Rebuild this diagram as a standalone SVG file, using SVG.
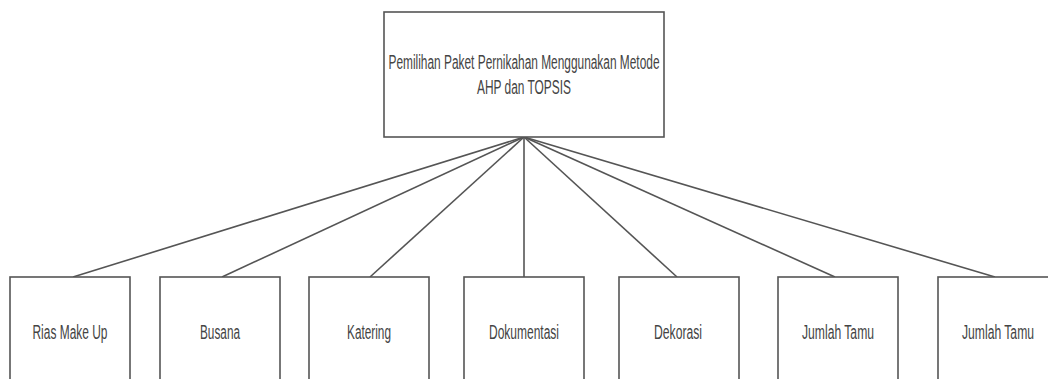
<svg xmlns="http://www.w3.org/2000/svg" width="1048" height="379" viewBox="0 0 1048 379">
<style>
.box{fill:#fff;stroke:#555;stroke-width:1.6}
.lbl{font-family:"Liberation Sans",Arial,sans-serif;font-size:20px;fill:#444;text-anchor:middle}
.edge{stroke:#555;stroke-width:1.6;fill:none}
</style>
<rect width="1048" height="379" fill="#fff"/>
<g id="connectors">
<line class="edge" x1="524" y1="137" x2="73" y2="277"/>
<line class="edge" x1="524" y1="137" x2="222" y2="277"/>
<line class="edge" x1="524" y1="137" x2="370" y2="277"/>
<line class="edge" x1="524" y1="137" x2="524" y2="277"/>
<line class="edge" x1="524" y1="137" x2="677" y2="277"/>
<line class="edge" x1="524" y1="137" x2="835" y2="277"/>
<line class="edge" x1="524" y1="137" x2="995" y2="277"/>
</g>
<g id="root">
<rect class="box" x="384" y="12" width="280" height="125"/>
<text class="lbl" x="524" y="69" textLength="271" lengthAdjust="spacingAndGlyphs">Pemilihan Paket Pernikahan Menggunakan Metode</text>
<text class="lbl" x="524" y="94" textLength="94" lengthAdjust="spacingAndGlyphs">AHP dan TOPSIS</text>
</g>
<g id="n1">
<rect class="box" x="10" y="277" width="120" height="120"/>
<text class="lbl" x="70" y="339" textLength="75" lengthAdjust="spacingAndGlyphs">Rias Make Up</text>
</g>
<g id="n2">
<rect class="box" x="160" y="277" width="120" height="120"/>
<text class="lbl" x="220" y="339" textLength="40" lengthAdjust="spacingAndGlyphs">Busana</text>
</g>
<g id="n3">
<rect class="box" x="309" y="277" width="120" height="120"/>
<text class="lbl" x="369" y="339" textLength="44" lengthAdjust="spacingAndGlyphs">Katering</text>
</g>
<g id="n4">
<rect class="box" x="464" y="277" width="120" height="120"/>
<text class="lbl" x="524" y="339" textLength="70" lengthAdjust="spacingAndGlyphs">Dokumentasi</text>
</g>
<g id="n5">
<rect class="box" x="619" y="277" width="120" height="120"/>
<text class="lbl" x="678" y="339" textLength="48" lengthAdjust="spacingAndGlyphs">Dekorasi</text>
</g>
<g id="n6">
<rect class="box" x="778" y="277" width="120" height="120"/>
<text class="lbl" x="838" y="339" textLength="72" lengthAdjust="spacingAndGlyphs">Jumlah Tamu</text>
</g>
<g id="n7">
<rect class="box" x="938" y="277" width="120" height="120"/>
<text class="lbl" x="998" y="339" textLength="72" lengthAdjust="spacingAndGlyphs">Jumlah Tamu</text>
</g>
</svg>
